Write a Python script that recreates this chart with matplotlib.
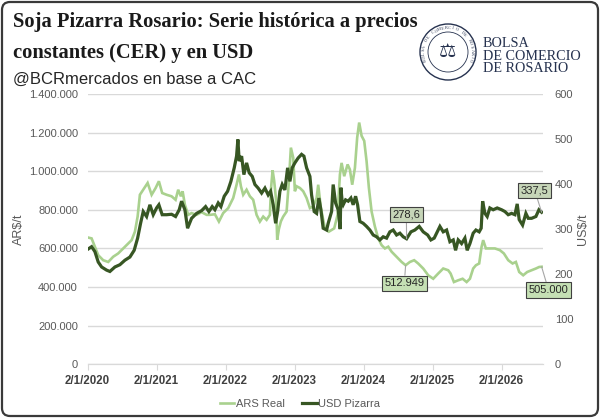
import numpy as np
import matplotlib
matplotlib.use("Agg")
import matplotlib.pyplot as plt
from matplotlib.patches import FancyBboxPatch, Ellipse
from matplotlib.ticker import FuncFormatter

plt.rcParams['font.family'] = ['Liberation Sans', 'DejaVu Sans']

# ARS Real (pesos constantes por tonelada)
ars_t = [2020.000, 2020.058, 2020.106, 2020.154, 2020.226, 2020.299, 2020.371, 2020.443,
         2020.516, 2020.588, 2020.638, 2020.686, 2020.725, 2020.758, 2020.806, 2020.870,
         2020.928, 2020.986, 2021.033, 2021.081, 2021.145, 2021.217, 2021.275, 2021.313,
         2021.352, 2021.377, 2021.410, 2021.458, 2021.507, 2021.580, 2021.652, 2021.725,
         2021.772, 2021.845, 2021.903, 2021.965, 2022.038, 2022.110, 2022.159, 2022.193,
         2022.222, 2022.255, 2022.304, 2022.352, 2022.400, 2022.449, 2022.497, 2022.545,
         2022.594, 2022.642, 2022.657, 2022.681, 2022.704, 2022.729, 2022.748, 2022.772,
         2022.801, 2022.835, 2022.884, 2022.917, 2022.946, 2022.980, 2023.004, 2023.029,
         2023.077, 2023.125, 2023.174, 2023.222, 2023.270, 2023.319, 2023.342, 2023.381,
         2023.439, 2023.497, 2023.574, 2023.623, 2023.657, 2023.681, 2023.719, 2023.768,
         2023.801, 2023.835, 2023.874, 2023.907, 2023.936, 2023.971, 2024.009, 2024.043,
         2024.077, 2024.116, 2024.164, 2024.212, 2024.261, 2024.309, 2024.357, 2024.406,
         2024.478, 2024.551, 2024.609, 2024.671, 2024.733, 2024.791, 2024.864, 2024.936,
         2025.009, 2025.081, 2025.154, 2025.226, 2025.261, 2025.309, 2025.371, 2025.435,
         2025.493, 2025.541, 2025.588, 2025.628, 2025.675, 2025.710, 2025.733, 2025.772,
         2025.830, 2025.903, 2025.975, 2026.033, 2026.096, 2026.159, 2026.207, 2026.255,
         2026.313, 2026.371, 2026.435, 2026.497, 2026.545, 2026.580]
ars_val = [657, 652, 609, 565, 539, 530, 557, 574,
           600, 626, 643, 687, 765, 878, 904, 939,
           878, 913, 948, 887, 878, 870, 852, 904,
           870, 896, 826, 774, 783, 774, 788, 774,
           774, 777, 739, 783, 809, 861, 930, 983,
           922, 878, 904, 870, 852, 774, 739, 765,
           748, 774, 905, 1005, 950, 860, 645, 700,
           740, 765, 791, 948, 1122, 1070, 896, 922,
           913, 896, 861, 809, 817, 861, 930, 809,
           704, 687, 704, 774, 983, 1043, 974, 1035,
           1009, 930, 1017, 1174, 1252, 1183, 1157, 1052,
           913, 791, 713, 652, 617, 600, 609, 583,
           557, 530, 512.949, 530, 539, 522, 496, 461,
           443, 470, 496, 487, 470, 426, 435, 443,
           426, 443, 496, 513, 522, 609, 643, 600,
           600, 600, 591, 574, 539, 522, 530, 478,
           461, 478, 487, 496, 504, 505]
ars_val = [v * 1000 for v in ars_val]

# USD Pizarra (US$/t)
usd_t = [2020.000, 2020.058, 2020.106, 2020.154, 2020.203, 2020.275, 2020.323, 2020.396,
         2020.468, 2020.541, 2020.613, 2020.675, 2020.725, 2020.768, 2020.806, 2020.855,
         2020.903, 2020.951, 2021.000, 2021.033, 2021.081, 2021.145, 2021.217, 2021.275,
         2021.328, 2021.362, 2021.410, 2021.449, 2021.507, 2021.580, 2021.652, 2021.710,
         2021.758, 2021.806, 2021.845, 2021.893, 2021.932, 2021.980, 2022.029, 2022.077,
         2022.125, 2022.159, 2022.178, 2022.197, 2022.232, 2022.265, 2022.304, 2022.342,
         2022.386, 2022.425, 2022.472, 2022.522, 2022.570, 2022.617, 2022.652, 2022.690,
         2022.725, 2022.754, 2022.787, 2022.820, 2022.859, 2022.899, 2022.932, 2022.965,
         2023.004, 2023.052, 2023.101, 2023.135, 2023.174, 2023.222, 2023.246, 2023.284,
         2023.319, 2023.352, 2023.381, 2023.414, 2023.464, 2023.487, 2023.536, 2023.559,
         2023.594, 2023.632, 2023.661, 2023.671, 2023.690, 2023.704, 2023.739, 2023.777,
         2023.816, 2023.849, 2023.884, 2023.913, 2023.946, 2023.994, 2024.043, 2024.091,
         2024.139, 2024.188, 2024.236, 2024.284, 2024.333, 2024.381, 2024.429, 2024.478,
         2024.526, 2024.574, 2024.623, 2024.686, 2024.743, 2024.806, 2024.864, 2024.928,
         2024.975, 2025.023, 2025.081, 2025.106, 2025.154, 2025.203, 2025.251, 2025.299,
         2025.333, 2025.371, 2025.420, 2025.468, 2025.501, 2025.541, 2025.588, 2025.628,
         2025.675, 2025.704, 2025.725, 2025.758, 2025.791, 2025.830, 2025.878, 2025.936,
         2026.000, 2026.048, 2026.096, 2026.145, 2026.193, 2026.226, 2026.255, 2026.304,
         2026.352, 2026.386, 2026.435, 2026.497, 2026.541, 2026.580]
usd_val = [255, 261, 250, 227, 216, 209, 206, 216,
           221, 231, 238, 253, 280, 313, 339, 328,
           354, 332, 347, 354, 332, 332, 333, 328,
           343, 362, 343, 302, 324, 335, 341, 350,
           339, 350, 343, 358, 350, 373, 384, 406,
           436, 462, 499, 451, 462, 421, 447, 425,
           417, 399, 391, 380, 391, 376, 384, 354,
           313, 339, 384, 399, 387, 436, 406, 436,
           447, 458, 466, 462, 436, 417, 376, 339,
           335, 369, 343, 302, 298, 313, 339, 399,
           358, 343, 300, 392, 360, 354, 365, 362,
           369, 354, 373, 354, 317, 313, 306, 298,
           287, 283, 276, 283, 280, 294, 298, 287,
           291, 283, 278.6, 294, 298, 306, 294, 287,
           276, 280, 298, 306, 294, 298, 272, 276,
           253, 276, 268, 280, 253, 268, 291, 298,
           294, 302, 362, 335, 328, 347, 343, 347,
           343, 339, 332, 335, 332, 356, 321, 309,
           335, 324, 324, 328, 343, 337.5]

years = [2020, 2021, 2022, 2023, 2024, 2025, 2026]
year_labels = ["2/1/%d" % y for y in years]

c_ars = "#a9d18e"
c_usd = "#375623"
grey = "#595959"

fig = plt.figure(figsize=(6, 4.18), dpi=100)
ax = fig.add_axes([0.146, 0.1285, 0.759, 0.6467])
ax2 = ax.twinx()

ax.plot(ars_t, ars_val, color=c_ars, lw=1.9, label="ARS Real", solid_joinstyle="miter")
ax2.plot(usd_t, usd_val, color=c_usd, lw=2.3, label="USD Pizarra", solid_joinstyle="miter")

ax.set_ylim(0, 1400000)
ax2.set_ylim(0, 600)
ax.set_xlim(2020.0, 2026.6)
ax.set_yticks(np.arange(0, 1400001, 200000))
ax2.set_yticks(np.arange(0, 601, 100))
ax.yaxis.set_major_formatter(FuncFormatter(lambda v, p: "{:,}".format(int(v)).replace(",", ".")))
ax.set_xticks(years)
ax.set_xticklabels(year_labels, fontweight="bold", color="#404040", fontsize=8.3)

ax.grid(axis="y", color="#d9d9d9", lw=1.0)
ax.set_axisbelow(True)
for a in (ax, ax2):
    for s in ("top", "left", "right"):
        a.spines[s].set_visible(False)
    a.spines["bottom"].set_color("#d9d9d9")
ax.tick_params(axis="y", length=0, labelsize=8, labelcolor=grey, pad=7)
ax2.tick_params(axis="y", length=0, labelsize=8, labelcolor=grey, pad=8.5)
ax.tick_params(axis="x", length=4, color="#d9d9d9", pad=4)

ax.set_ylabel("AR$/t", color=grey, fontsize=9, labelpad=3)
ax2.set_ylabel("US$/t", color=grey, fontsize=9, labelpad=3)

# etiquetas de datos
box_l = dict(boxstyle="square,pad=0.25", fc="#c5e0b4", ec="#404040", lw=0.8)
box_d = dict(boxstyle="square,pad=0.25", fc="#c6d5b8", ec="#404040", lw=0.8)
arr = dict(arrowstyle="-", color="#a6a6a6", lw=0.8, shrinkA=0, shrinkB=0)
ax2.annotate("278,6", xy=(2024.623, 278.6), xytext=(2024.62, 332), ha="center", va="center",
             fontsize=8, color="#262626", bbox=box_d, arrowprops=arr)
ax2.annotate("337,5", xy=(2026.580, 337.5), xytext=(2026.48, 386), ha="center", va="center",
             fontsize=8, color="#262626", bbox=box_d, arrowprops=arr, annotation_clip=False)
ax.annotate("512.949", xy=(2024.609, 512949), xytext=(2024.59, 419000), ha="center", va="center",
            fontsize=8, color="#262626", bbox=box_l, arrowprops=arr, annotation_clip=False,
            zorder=5)
ax.annotate("505.000", xy=(2026.580, 505000), xytext=(2026.68, 385000), ha="center", va="center",
            fontsize=8, color="#262626", bbox=box_l, arrowprops=arr, annotation_clip=False,
            zorder=5)

h1, l1 = ax.get_legend_handles_labels()
h2, l2 = ax2.get_legend_handles_labels()
fig.legend(h1 + h2, l1 + l2, loc="center", bbox_to_anchor=(0.5, 0.033), ncol=2, frameon=False,
           fontsize=8, handlelength=1.3, handletextpad=0.15, columnspacing=1.6, labelcolor=grey)

# titulos
fig.text(0.022, 0.935, "Soja Pizarra Rosario: Serie histórica a precios", family="Liberation Serif",
         fontweight="bold", fontsize=14.8, color="#1a1a1a", va="baseline")
fig.text(0.022, 0.862, "constantes (CER) y en USD", family="Liberation Serif",
         fontweight="bold", fontsize=14.8, color="#1a1a1a", va="baseline")
fig.text(0.022, 0.800, "@BCRmercados en base a CAC", fontsize=12, color="#262626", va="baseline")

# logo BCR
navy = "#26324f"
fig.patches.append(Ellipse((448 / 600, 1 - 52 / 418), 56 / 600, 56 / 418, fill=False, ec=navy,
                           lw=1.0, transform=fig.transFigure))
fig.patches.append(Ellipse((448 / 600, 1 - 52 / 418), 40 / 600, 40 / 418, fill=False, ec=navy,
                           lw=0.6, transform=fig.transFigure))
ring = "BOLSA DE COMERCIO DE ROSARIO"
angs = np.linspace(200, -20, len(ring))
for ch, a in zip(ring, angs):
    r = 24
    px = 448 + r * np.cos(np.radians(a))
    py = 52 - r * np.sin(np.radians(a))
    fig.text(px / 600, 1 - py / 418, ch, fontsize=3.2, color=navy, ha="center", va="center",
             rotation=a - 90, family="Liberation Serif")
fig.text(448 / 600, 1 - 52 / 418, "\u2696", fontsize=14, color=navy, ha="center", va="center",
         family="DejaVu Sans")
for i, t in enumerate(["BOLSA", "DE COMERCIO", "DE ROSARIO"]):
    fig.text(483 / 600, 1 - (47 + 12.5 * i) / 418, t, family="Liberation Serif", fontsize=10.2,
             color=navy, va="baseline")

# marco
fig.patches.append(FancyBboxPatch((2, 2), 596, 414, boxstyle="round,pad=0,rounding_size=8",
                                  fill=False, ec="#3a3a3a", lw=1.6, transform=None))

fig.savefig("out.png", dpi=100)
